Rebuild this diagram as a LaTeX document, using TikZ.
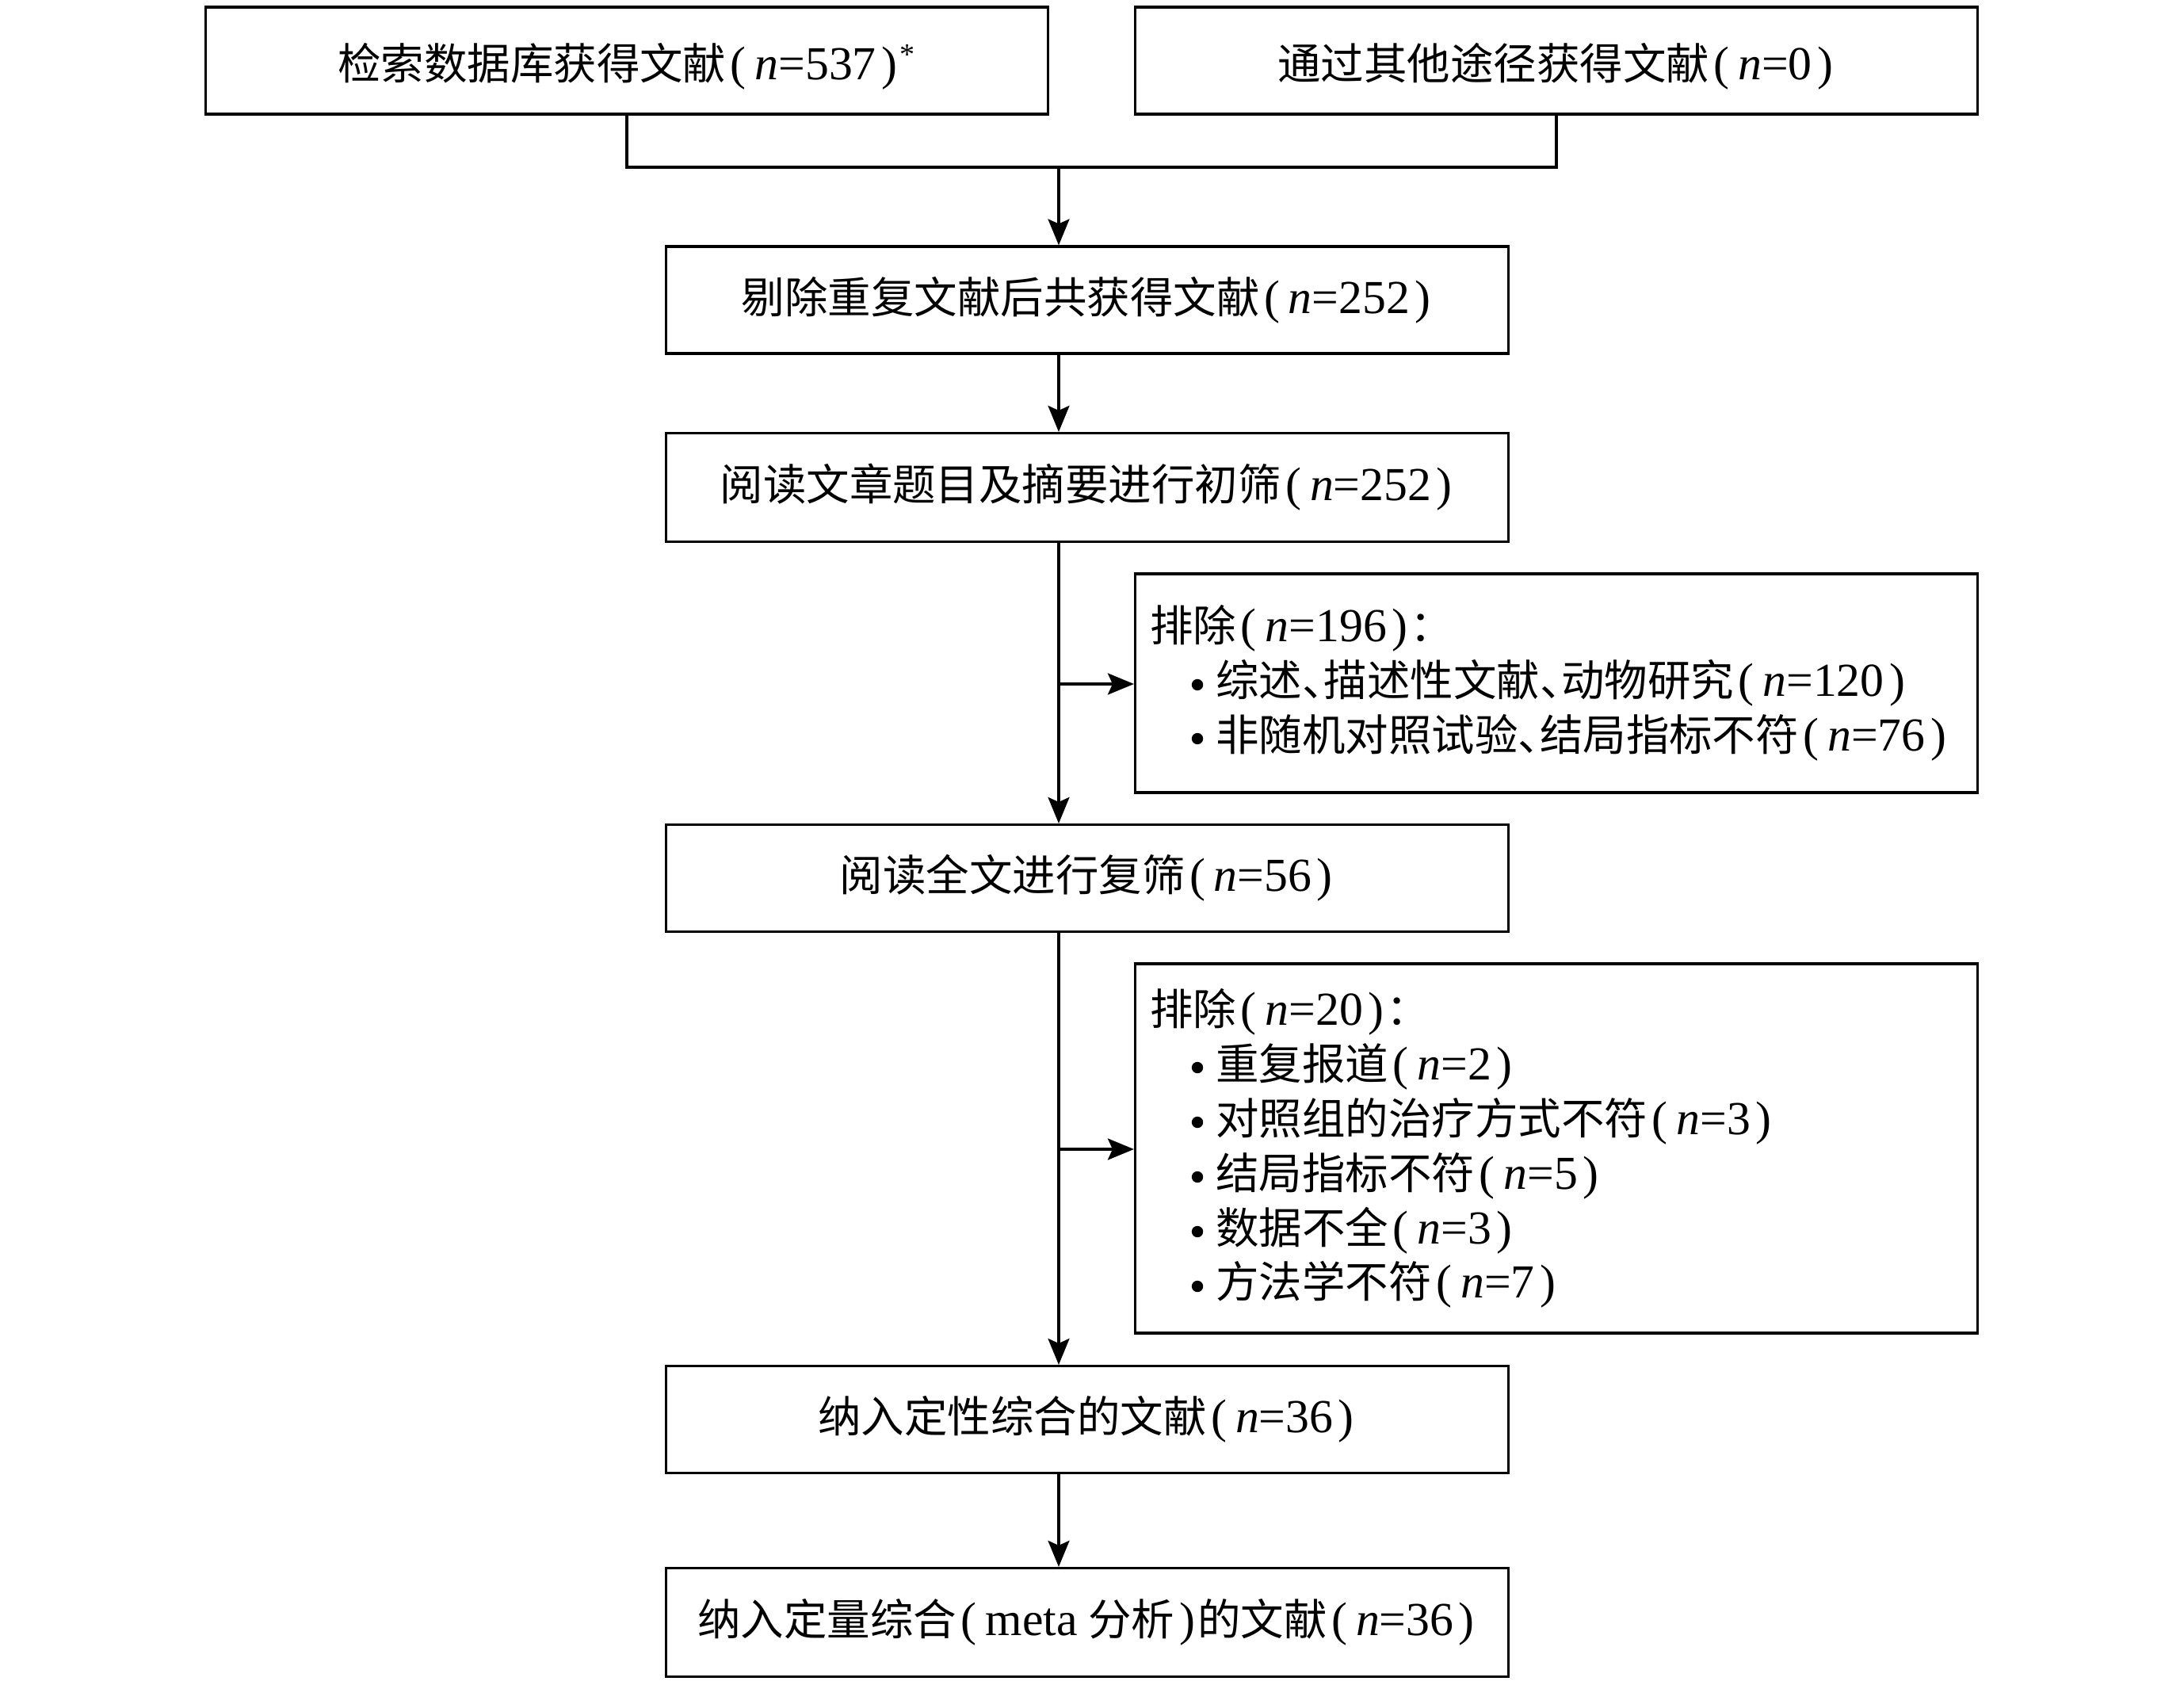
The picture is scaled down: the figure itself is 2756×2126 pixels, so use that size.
\documentclass[tikz,border=0pt]{standalone}
\usepackage{fontspec}
\setmainfont{Liberation Serif}
\newfontfamily\cjk{Noto Sans CJK SC}
\usetikzlibrary{arrows.meta}
\newcommand\cn[1]{{\cjk #1}}
\newcommand\lat[1]{{\fontsize{17}{19.6}\selectfont #1}}
\newcommand\lp{\hspace{0.1em}\lat{(}\hspace{0.2em}}
\newcommand\rp{\hspace{0.12em}\lat{)}\hspace{0.05em}}
\newcommand\nn[1]{\lp\lat{\textit{n}=#1}\rp}
\newcommand\dun{\makebox[0.5em][l]{\cjk 、}}
\newcommand\itm[1]{\hspace*{8.3mm}#1}
\newcommand\shiftdown[1]{\raisebox{-0.7mm}[\height][\depth]{#1}}
\begin{document}
\begin{tikzpicture}[x=0.1mm,y=-0.1mm,
  every node/.style={font=\fontsize{15.5}{19.6}\selectfont},
  flowbox/.style={draw,line width=0.9pt,minimum width=106.3mm,minimum height=13.5mm,inner sep=0pt,align=center},
  exbox/.style={draw,line width=0.9pt,text width=102.5mm,inner xsep=1.9mm,inner ysep=0pt,align=left},
  bul/.style={fill=black},
  conn/.style={line width=0.9pt},
  arr/.style={conn,-{Stealth[length=3.3mm,width=2.7mm,inset=0.6mm]}}]
\useasboundingbox (0,0) rectangle (2756,2126);
\node[flowbox] (b1) at (791,76.5) {\shiftdown{\cn{检索数据库获得文献}\nn{537}\textsuperscript{*}}};
\node[flowbox] (b2) at (1964,76.5) {\shiftdown{\cn{通过其他途径获得文献}\nn{0}}};
\node[flowbox] (b3) at (1372,378.5) {\cn{剔除重复文献后共获得文献}\nn{252}};
\node[flowbox,minimum height=13.7mm] (b4) at (1372,615) {\cn{阅读文章题目及摘要进行初筛}\nn{252}};
\node[exbox,minimum height=27.6mm] (e1) at (1964,862) {\cn{排除}\nn{196}\cn{：}\\
  \itm{\cn{综述}\dun\cn{描述性文献}\dun\cn{动物研究}\nn{120}}\\
  \itm{\cn{非随机对照试验}\dun\cn{结局指标不符}\nn{76}}};
\node[flowbox] (b5) at (1372,1108) {\cn{阅读全文进行复筛}\nn{56}};
\node[exbox,minimum height=46.6mm] (e2) at (1964,1449) {\cn{排除}\nn{20}\cn{：}\\
  \itm{\cn{重复报道}\nn{2}}\\
  \itm{\cn{对照组的治疗方式不符}\nn{3}}\\
  \itm{\cn{结局指标不符}\nn{5}}\\
  \itm{\cn{数据不全}\nn{3}}\\
  \itm{\cn{方法学不符}\nn{7}}};
\node[flowbox] (b6) at (1372,1791) {\cn{纳入定性综合的文献}\nn{36}};
\node[flowbox,minimum height=13.7mm] (b7) at (1372,2047) {\cn{纳入定量综合}\lp\lat{meta} \cn{分析}\rp\cn{的文献}\nn{36}};
% bullets
\foreach \yy in {864,932} \fill[bul] (1511,\yy) circle (0.72mm);
\foreach \yy in {1347,1416,1485,1554,1623} \fill[bul] (1511,\yy) circle (0.72mm);
\coordinate (jc) at (1336,211);
\coordinate (s1) at (1336,863);
\coordinate (s2) at (1336,1450);
\draw[conn] (b1.south) -- (b1.south |- jc) -- (b2.south |- jc) -- (b2.south);
\draw[arr] (jc) -- (jc |- b3.north);
\draw[arr] (b3.south -| jc) -- (b4.north -| jc);
\draw[arr] (b4.south -| jc) -- (b5.north -| jc);
\draw[arr] (s1) -- (s1 -| e1.west);
\draw[arr] (b5.south -| jc) -- (b6.north -| jc);
\draw[arr] (s2) -- (s2 -| e2.west);
\draw[arr] (b6.south -| jc) -- (b7.north -| jc);
\end{tikzpicture}
\end{document}
